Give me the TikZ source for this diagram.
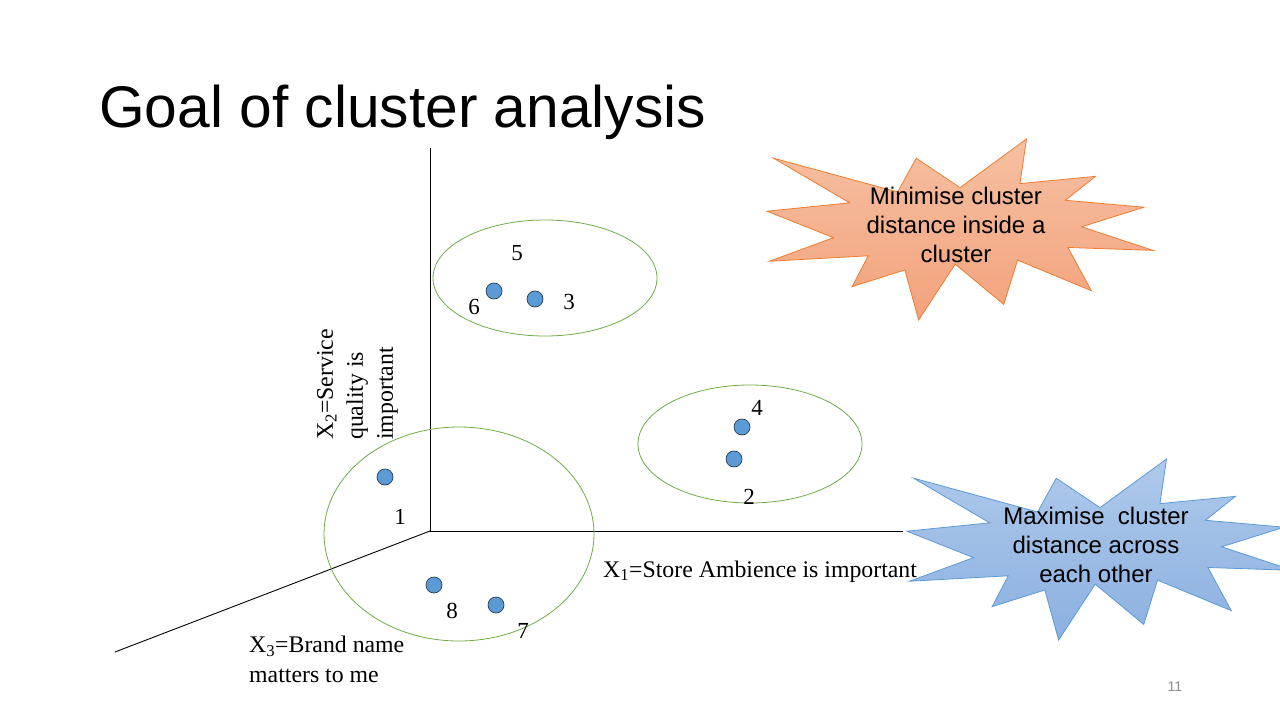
\documentclass[tikz,border=0pt]{standalone}
\usepackage{fontspec}
\setmainfont{Liberation Serif}
\newfontfamily\arialf{Liberation Sans}
\definecolor{dotblue}{HTML}{5B9BD5}
\definecolor{dotedge}{HTML}{2A3F55}
\definecolor{groupgreen}{HTML}{70AD47}
\definecolor{orangeedge}{HTML}{ED7D31}
\definecolor{orangetop}{HTML}{F6C0A2}
\definecolor{orangebot}{HTML}{F3A27C}
\definecolor{blueedge}{HTML}{5B9BD5}
\definecolor{bluetop}{HTML}{AFC9EB}
\definecolor{bluebot}{HTML}{8BB0E0}
\definecolor{pagegray}{HTML}{8C8C8C}
% irregular seal (explosion) outline on a 216 x 216 grid
\newcommand{\sealshape}{(108,58) -- (145.22,0) -- (141.55,53.25) -- (183.80,44.57) -- (167.02,73.15) -- (210.97,81.37) -- (176.07,104.75) -- (216,132.90) -- (168.37,129.42) -- (181.45,180.95) -- (140.20,144.57) -- (132.47,197.37) -- (105.32,149.35) -- (84.85,216) -- (77.15,156.27) -- (47.62,176.17) -- (56.67,139.37) -- (1.35,145.87) -- (37.22,117.75) -- (0,86.15) -- (46.27,76.17) -- (3.70,22.95) -- (73.12,63.20) -- (83.52,22.95) -- cycle}
\begin{document}
\begin{tikzpicture}[x=1pt,y=-1pt,
  dot/.style={circle,fill=dotblue,draw=dotedge,line width=0.7pt,minimum size=16pt,inner sep=0pt},
  num/.style={font=\fontsize{23}{26}\selectfont,inner sep=0pt},
  lbl/.style={font=\fontsize{23.8}{30}\selectfont,inner sep=0pt,align=left},
  grp/.style={draw=groupgreen,line width=0.8pt},
  axis/.style={draw=black,line width=0.9pt},
  bursttext/.style={font=\arialf\fontsize{24}{29}\selectfont,align=center,inner sep=0pt}]
\useasboundingbox (0,0) rectangle (1280,720);
\fill[white] (0,0) rectangle (1280,720);

% title
\node[anchor=base west,inner sep=0pt,font=\arialf\fontsize{58.7}{62}\selectfont] (title) at (99,127) {Goal of cluster analysis};

% axes
\coordinate (O) at (430,531);
\coordinate (Ytop) at (430,148);
\coordinate (Xend) at (903,531);
\coordinate (Zend) at (115,652);
\draw[axis] (Ytop) -- (O) -- (Xend);
\draw[axis] (O) -- (Zend);

% axis labels
\node[lbl,anchor=base west] (xlab) at (603,577) {X\textsubscript{1}=Store Ambience is important};
\node[lbl,rotate=90,anchor=north west] (ylab) at (317,440) {X\textsubscript{2}=Service\\quality is\\important};
\node[lbl,anchor=north west] (zlab) at (249,636) {X\textsubscript{3}=Brand name\\matters to me};

% clusters
\draw[grp] (545,278) ellipse [x radius=112,y radius=58];
\draw[grp] (750,444) ellipse [x radius=112,y radius=59];
\draw[grp] (459,534) ellipse [x radius=135,y radius=107];

% observations
\node[dot] (p6) at (494,291) {};
\node[dot] (p3) at (535,299) {};
\node[dot] (p4) at (742,427) {};
\node[dot] (p2) at (734,459) {};
\node[dot] (p1) at (385,477) {};
\node[dot] (p8) at (434,585) {};
\node[dot] (p7) at (496,605) {};

\node[num] (n5) at (517,253) {5};
\node[num] (n6) at (474,307) {6};
\node[num] (n3) at (569,302) {3};
\node[num] (n4) at (757,408) {4};
\node[num] (n2) at (749,497) {2};
\node[num] (n1) at (400,517) {1};
\node[num] (n8) at (452,611) {8};
\node[num] (n7) at (523,631) {7};

% callouts
\begin{scope}[shift={(767,139)},x=1.787pt,y=-0.838pt]
  \draw[orangeedge,line width=0.8pt,top color=orangetop,bottom color=orangebot] \sealshape;
\end{scope}
\node[bursttext] (minbox) at (956,225) {Minimise cluster\\distance inside a\\cluster};

\begin{scope}[shift={(907,459)},x=1.787pt,y=-0.838pt]
  \draw[blueedge,line width=0.8pt,top color=bluetop,bottom color=bluebot] \sealshape;
\end{scope}
\node[bursttext] (maxbox) at (1096,545) {Maximise~ cluster\\distance across\\each other};

% slide number
\node[font=\arialf\fontsize{14}{16}\selectfont,text=pagegray,inner sep=0pt] (pageno) at (1175,687) {11};
\end{tikzpicture}
\end{document}
